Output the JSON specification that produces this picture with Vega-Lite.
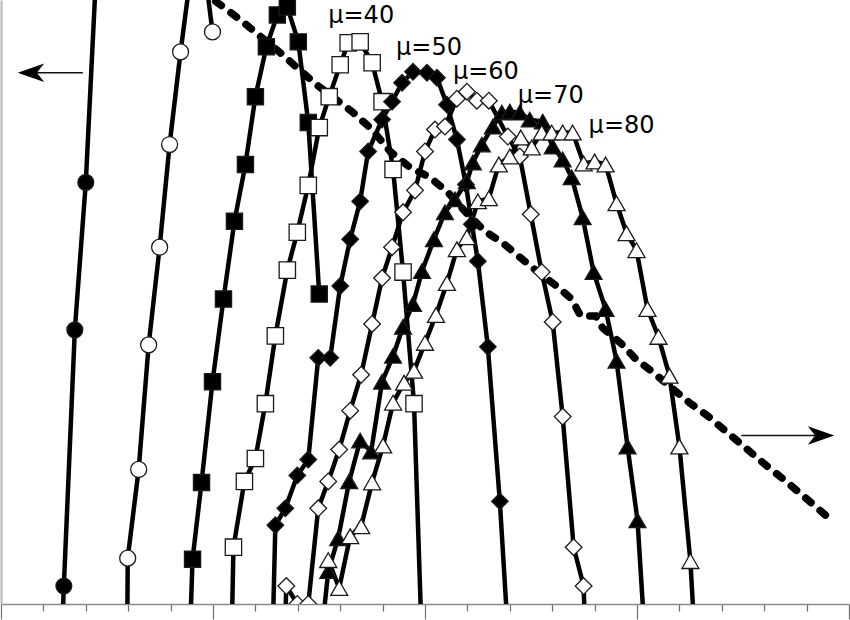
{
  "$schema": "https://vega.github.io/schema/vega-lite/v6.json",
  "description": "Distribution curves for mu = 10 ... 80 with a dashed trend line",
  "width": 850,
  "height": 620,
  "autosize": {"type": "fit", "contains": "padding"},
  "padding": 0,
  "datasets": {
    "curves": [
      {"s": "μ=10", "x": 61, "y": -34}, {"s": "μ=10", "x": 63, "y": 18}, {"s": "μ=10", "x": 74, "y": 275}, {"s": "μ=10", "x": 85, "y": 423}, {"s": "μ=10", "x": 96, "y": 646},
      {"s": "μ=20", "x": 126.5, "y": -44}, {"s": "μ=20", "x": 127, "y": 46}, {"s": "μ=20", "x": 138, "y": 135}, {"s": "μ=20", "x": 148, "y": 260}, {"s": "μ=20", "x": 159, "y": 358}, {"s": "μ=20", "x": 169, "y": 461}, {"s": "μ=20", "x": 180, "y": 554}, {"s": "μ=20", "x": 192, "y": 646}, {"s": "μ=20", "x": 203, "y": 646}, {"s": "μ=20", "x": 212, "y": 574},
      {"s": "μ=30", "x": 189, "y": -44}, {"s": "μ=30", "x": 192, "y": 45}, {"s": "μ=30", "x": 201, "y": 122}, {"s": "μ=30", "x": 212, "y": 223}, {"s": "μ=30", "x": 223, "y": 306}, {"s": "μ=30", "x": 234, "y": 384}, {"s": "μ=30", "x": 245, "y": 441}, {"s": "μ=30", "x": 255, "y": 509}, {"s": "μ=30", "x": 266, "y": 559}, {"s": "μ=30", "x": 277, "y": 591}, {"s": "μ=30", "x": 287, "y": 599}, {"s": "μ=30", "x": 298, "y": 564}, {"s": "μ=30", "x": 308, "y": 483}, {"s": "μ=30", "x": 319, "y": 311},
      {"s": "μ=40", "x": 231, "y": -44}, {"s": "μ=40", "x": 233, "y": 57}, {"s": "μ=40", "x": 244, "y": 123}, {"s": "μ=40", "x": 255, "y": 146}, {"s": "μ=40", "x": 265, "y": 201}, {"s": "μ=40", "x": 275, "y": 269}, {"s": "μ=40", "x": 287, "y": 335}, {"s": "μ=40", "x": 297, "y": 373}, {"s": "μ=40", "x": 308, "y": 420}, {"s": "μ=40", "x": 319, "y": 478}, {"s": "μ=40", "x": 329, "y": 509}, {"s": "μ=40", "x": 340, "y": 541}, {"s": "μ=40", "x": 348, "y": 563}, {"s": "μ=40", "x": 360, "y": 564}, {"s": "μ=40", "x": 372, "y": 543}, {"s": "μ=40", "x": 382, "y": 504}, {"s": "μ=40", "x": 393, "y": 436}, {"s": "μ=40", "x": 403, "y": 333}, {"s": "μ=40", "x": 414, "y": 201}, {"s": "μ=40", "x": 422, "y": -44},
      {"s": "μ=50", "x": 272, "y": -44}, {"s": "μ=50", "x": 275, "y": 79}, {"s": "μ=50", "x": 285, "y": 96}, {"s": "μ=50", "x": 297, "y": 129}, {"s": "μ=50", "x": 308, "y": 145}, {"s": "μ=50", "x": 318, "y": 247}, {"s": "μ=50", "x": 330, "y": 247}, {"s": "μ=50", "x": 340, "y": 319}, {"s": "μ=50", "x": 350, "y": 366}, {"s": "μ=50", "x": 360, "y": 404}, {"s": "μ=50", "x": 368, "y": 454}, {"s": "μ=50", "x": 382, "y": 486}, {"s": "μ=50", "x": 392, "y": 504}, {"s": "μ=50", "x": 402, "y": 523}, {"s": "μ=50", "x": 413, "y": 534}, {"s": "μ=50", "x": 427, "y": 533}, {"s": "μ=50", "x": 437, "y": 528}, {"s": "μ=50", "x": 447, "y": 501}, {"s": "μ=50", "x": 457, "y": 466}, {"s": "μ=50", "x": 466, "y": 421}, {"s": "μ=50", "x": 472, "y": 381}, {"s": "μ=50", "x": 478, "y": 344}, {"s": "μ=50", "x": 488, "y": 258}, {"s": "μ=50", "x": 500, "y": 103}, {"s": "μ=50", "x": 509, "y": -44},
      {"s": "μ=60", "x": 284, "y": -44}, {"s": "μ=60", "x": 286, "y": 18}, {"s": "μ=60", "x": 297, "y": 0}, {"s": "μ=60", "x": 308, "y": 0}, {"s": "μ=60", "x": 318, "y": 96}, {"s": "μ=60", "x": 328, "y": 123}, {"s": "μ=60", "x": 339, "y": 155}, {"s": "μ=60", "x": 350, "y": 194}, {"s": "μ=60", "x": 361, "y": 230}, {"s": "μ=60", "x": 372, "y": 281}, {"s": "μ=60", "x": 382, "y": 327}, {"s": "μ=60", "x": 392, "y": 358}, {"s": "μ=60", "x": 403, "y": 393}, {"s": "μ=60", "x": 415, "y": 415}, {"s": "μ=60", "x": 425, "y": 454}, {"s": "μ=60", "x": 435, "y": 476}, {"s": "μ=60", "x": 445, "y": 479}, {"s": "μ=60", "x": 457, "y": 507}, {"s": "μ=60", "x": 467, "y": 514}, {"s": "μ=60", "x": 477, "y": 505}, {"s": "μ=60", "x": 489, "y": 505}, {"s": "μ=60", "x": 508, "y": 469}, {"s": "μ=60", "x": 520, "y": 449}, {"s": "μ=60", "x": 531, "y": 391}, {"s": "μ=60", "x": 542, "y": 333}, {"s": "μ=60", "x": 553, "y": 283}, {"s": "μ=60", "x": 563, "y": 188}, {"s": "μ=60", "x": 574, "y": 57}, {"s": "μ=60", "x": 584, "y": 18}, {"s": "μ=60", "x": 586, "y": -44},
      {"s": "μ=70", "x": 320, "y": -44}, {"s": "μ=70", "x": 328, "y": 33}, {"s": "μ=70", "x": 338, "y": 66}, {"s": "μ=70", "x": 349, "y": 123}, {"s": "μ=70", "x": 360, "y": 164}, {"s": "μ=70", "x": 371, "y": 153}, {"s": "μ=70", "x": 382, "y": 223}, {"s": "μ=70", "x": 393, "y": 249}, {"s": "μ=70", "x": 403, "y": 278}, {"s": "μ=70", "x": 413, "y": 301}, {"s": "μ=70", "x": 422, "y": 334}, {"s": "μ=70", "x": 434, "y": 366}, {"s": "μ=70", "x": 445, "y": 393}, {"s": "μ=70", "x": 455, "y": 406}, {"s": "μ=70", "x": 467, "y": 424}, {"s": "μ=70", "x": 473, "y": 443}, {"s": "μ=70", "x": 482, "y": 461}, {"s": "μ=70", "x": 493, "y": 479}, {"s": "μ=70", "x": 502, "y": 493}, {"s": "μ=70", "x": 510, "y": 494}, {"s": "μ=70", "x": 520, "y": 493}, {"s": "μ=70", "x": 530, "y": 486}, {"s": "μ=70", "x": 543, "y": 484}, {"s": "μ=70", "x": 553, "y": 459}, {"s": "μ=70", "x": 563, "y": 446}, {"s": "μ=70", "x": 572, "y": 428}, {"s": "μ=70", "x": 583, "y": 388}, {"s": "μ=70", "x": 594, "y": 333}, {"s": "μ=70", "x": 606, "y": 296}, {"s": "μ=70", "x": 617, "y": 244}, {"s": "μ=70", "x": 628, "y": 158}, {"s": "μ=70", "x": 638, "y": 84}, {"s": "μ=70", "x": 646, "y": -44},
      {"s": "μ=80", "x": 328, "y": 44}, {"s": "μ=80", "x": 339, "y": 16}, {"s": "μ=80", "x": 350, "y": 68}, {"s": "μ=80", "x": 361, "y": 78}, {"s": "μ=80", "x": 372, "y": 122}, {"s": "μ=80", "x": 383, "y": 159}, {"s": "μ=80", "x": 393, "y": 202}, {"s": "μ=80", "x": 404, "y": 222}, {"s": "μ=80", "x": 414, "y": 234}, {"s": "μ=80", "x": 425, "y": 262}, {"s": "μ=80", "x": 436, "y": 290}, {"s": "μ=80", "x": 447, "y": 322}, {"s": "μ=80", "x": 457, "y": 356}, {"s": "μ=80", "x": 467, "y": 368}, {"s": "μ=80", "x": 478, "y": 404}, {"s": "μ=80", "x": 489, "y": 407}, {"s": "μ=80", "x": 499, "y": 441}, {"s": "μ=80", "x": 510, "y": 449}, {"s": "μ=80", "x": 521, "y": 468}, {"s": "μ=80", "x": 532, "y": 458}, {"s": "μ=80", "x": 542, "y": 473}, {"s": "μ=80", "x": 552, "y": 473}, {"s": "μ=80", "x": 563, "y": 473}, {"s": "μ=80", "x": 573, "y": 473}, {"s": "μ=80", "x": 584, "y": 442}, {"s": "μ=80", "x": 595, "y": 444}, {"s": "μ=80", "x": 606, "y": 441}, {"s": "μ=80", "x": 617, "y": 402}, {"s": "μ=80", "x": 627, "y": 372}, {"s": "μ=80", "x": 637, "y": 355}, {"s": "μ=80", "x": 648, "y": 296}, {"s": "μ=80", "x": 659, "y": 268}, {"s": "μ=80", "x": 670, "y": 229}, {"s": "μ=80", "x": 680, "y": 158}, {"s": "μ=80", "x": 691, "y": 43}, {"s": "μ=80", "x": 696, "y": -44}
    ],
    "trend": [
      {"x": 200, "y": 616}, {"x": 240, "y": 586}, {"x": 280, "y": 553}, {"x": 315, "y": 522}, {"x": 353, "y": 493}, {"x": 372, "y": 476}, {"x": 390, "y": 454}, {"x": 410, "y": 438}, {"x": 430, "y": 428}, {"x": 448, "y": 413}, {"x": 465, "y": 394}, {"x": 485, "y": 374}, {"x": 502, "y": 363}, {"x": 520, "y": 348}, {"x": 537, "y": 334}, {"x": 557, "y": 319}, {"x": 572, "y": 306}, {"x": 581, "y": 289}, {"x": 596, "y": 289}, {"x": 603, "y": 277}, {"x": 622, "y": 261}, {"x": 637, "y": 245}, {"x": 653, "y": 233}, {"x": 672, "y": 217}, {"x": 690, "y": 202}, {"x": 708, "y": 189}, {"x": 728, "y": 172}, {"x": 747, "y": 156}, {"x": 767, "y": 139}, {"x": 787, "y": 123}, {"x": 807, "y": 106}, {"x": 830, "y": 86}
    ],
    "arrows": [
      {"dir": "left", "from": 82, "to": 30, "y": 533},
      {"dir": "right", "from": 742, "to": 822, "y": 169}
    ],
    "labels": [
      {"text": "μ=40", "x": 328, "y": 583},
      {"text": "μ=50", "x": 396, "y": 551},
      {"text": "μ=60", "x": 453, "y": 527},
      {"text": "μ=70", "x": 518, "y": 503},
      {"text": "μ=80", "x": 589, "y": 473}
    ]
  },
  "layer": [
    {
      "data": {"name": "trend"},
      "mark": {"type": "line", "color": "black", "strokeWidth": 7.5, "strokeDash": [7, 12], "strokeCap": "round", "clip": true},
      "encoding": {
        "x": {"field": "x", "type": "quantitative", "title": null, "scale": {"domain": [0, 850], "nice": false, "zero": false}},
        "y": {"field": "y", "type": "quantitative", "title": null, "scale": {"domain": [0, 606], "nice": false}}
      }
    },
    {
      "data": {"name": "curves"},
      "mark": {"type": "line", "color": "black", "strokeWidth": 4.5, "clip": true},
      "encoding": {
        "x": {
          "field": "x", "type": "quantitative", "title": null,
          "scale": {"domain": [0, 850], "nice": false, "zero": false},
          "axis": {
            "values": [0, 21.25, 42.5, 63.75, 85, 106.25, 127.5, 148.75, 170, 191.25, 212.5, 233.75, 255, 276.25, 297.5, 318.75, 340, 361.25, 382.5, 403.75, 425, 446.25, 467.5, 488.75, 510, 531.25, 552.5, 573.75, 595, 616.25, 637.5, 658.75, 680, 701.25, 722.5, 743.75, 765, 786.25, 807.5, 828.75, 850],
            "tickSize": {"condition": {"test": "datum.value % 106.25 === 0", "value": 15}, "value": 7}
          }
        },
        "y": {"field": "y", "type": "quantitative", "title": null, "scale": {"domain": [0, 606], "nice": false}},
        "detail": {"field": "s", "type": "nominal"}
      }
    },
    {
      "data": {"name": "curves"},
      "mark": {"type": "point", "filled": true, "stroke": "#1a1a1a", "strokeWidth": 1.3, "opacity": 1, "clip": true},
      "encoding": {
        "x": {"field": "x", "type": "quantitative", "title": null, "scale": {"domain": [0, 850], "nice": false, "zero": false}},
        "y": {"field": "y", "type": "quantitative", "title": null, "scale": {"domain": [0, 606], "nice": false}},
        "shape": {"field": "s", "type": "nominal", "legend": null, "scale": {"domain": ["μ=10", "μ=20", "μ=30", "μ=40", "μ=50", "μ=60", "μ=70", "μ=80"], "range": ["circle", "circle", "square", "square", "diamond", "diamond", "triangle-up", "triangle-up"]}},
        "fill": {"field": "s", "type": "nominal", "legend": null, "scale": {"domain": ["μ=10", "μ=20", "μ=30", "μ=40", "μ=50", "μ=60", "μ=70", "μ=80"], "range": ["black", "white", "black", "white", "black", "white", "black", "white"]}},
        "size": {"field": "s", "type": "nominal", "legend": null, "scale": {"domain": ["μ=10", "μ=20", "μ=30", "μ=40", "μ=50", "μ=60", "μ=70", "μ=80"], "range": [250, 290, 300, 280, 190, 250, 230, 300]}}
      }
    },
    {
      "data": {"name": "arrows"},
      "mark": {"type": "rule", "color": "#111", "strokeWidth": 1.5},
      "encoding": {
        "x": {"field": "from", "type": "quantitative", "title": null, "scale": {"domain": [0, 850], "nice": false, "zero": false}},
        "x2": {"field": "to"},
        "y": {"field": "y", "type": "quantitative", "title": null, "scale": {"domain": [0, 606], "nice": false}}
      }
    },
    {
      "data": {"name": "arrows"},
      "mark": {"type": "point", "filled": true, "color": "black", "size": 700, "opacity": 1, "strokeWidth": 0},
      "encoding": {
        "x": {"field": "to", "type": "quantitative", "title": null, "scale": {"domain": [0, 850], "nice": false, "zero": false}},
        "y": {"field": "y", "type": "quantitative", "title": null, "scale": {"domain": [0, 606], "nice": false}},
        "shape": {"field": "dir", "type": "nominal", "legend": null, "scale": {"domain": ["left", "right"], "range": ["M-1,0L1,-0.7L0.45,0L1,0.7Z", "M1,0L-1,-0.7L-0.45,0L-1,0.7Z"]}}
      }
    },
    {
      "data": {"name": "labels"},
      "mark": {"type": "text", "align": "left", "baseline": "alphabetic", "font": "DejaVu Sans", "fontSize": 24, "color": "black"},
      "encoding": {
        "x": {"field": "x", "type": "quantitative", "title": null, "scale": {"domain": [0, 850], "nice": false, "zero": false}},
        "y": {"field": "y", "type": "quantitative", "title": null, "scale": {"domain": [0, 606], "nice": false}},
        "text": {"field": "text"}
      }
    }
  ],
  "resolve": {"scale": {"shape": "independent"}},
  "config": {
    "view": {"stroke": null},
    "axis": {"labels": false, "grid": false},
    "axisX": {"domainColor": "#8a8a8a", "domainWidth": 1.5, "tickColor": "#6e6e6e", "tickWidth": 1.2, "minExtent": 15, "maxExtent": 15},
    "axisY": {"domainColor": "#b5b5b5", "domainWidth": 2, "ticks": false, "minExtent": 0, "maxExtent": 0}
  }
}
